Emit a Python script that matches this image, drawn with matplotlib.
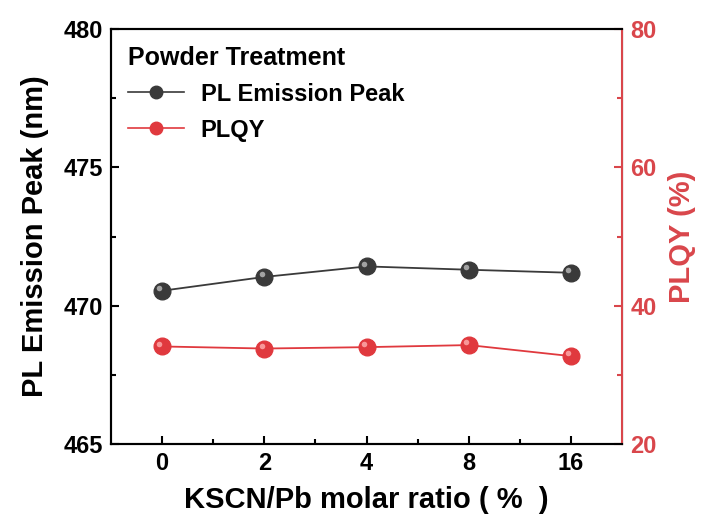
import matplotlib
matplotlib.use("Agg")
import matplotlib.pyplot as plt
import matplotlib.transforms as mtransforms
from matplotlib.lines import Line2D

plt.rcParams["font.family"] = ["Liberation Sans", "DejaVu Sans"]
plt.rcParams["font.weight"] = "bold"

# KSCN/Pb molar ratio (%) and measured values
ratios = ["0", "2", "4", "8", "16"]
pl_peak = [470.54, 471.04, 471.42, 471.30, 471.19]   # nm
plqy = [34.1, 33.8, 34.0, 34.3, 32.7]                # %

RED = "#e0393e"
AX_RED = "#d9464b"
DARK = "#3a3a3a"

fig = plt.figure(figsize=(7.07, 5.31), dpi=100)
ax = fig.add_axes([0.157, 0.164, 0.723, 0.781])
ax2 = ax.twinx()

xs = list(range(len(ratios)))


def ball(axis, x, y, face, light, z):
    """Draw a marker with a small highlight so it looks like a shaded sphere."""
    axis.plot(x, y, "-", color=face, lw=1.3, zorder=z)
    axis.plot(x, y, "o", ms=12, mfc=face, mec=face, zorder=z + 1, ls="none")
    shift = mtransforms.ScaledTranslation(-2 / 72, 2 / 72, fig.dpi_scale_trans)
    axis.plot(x, y, "o", ms=4, mfc=light, mec="none", alpha=0.8, ls="none",
              zorder=z + 2, transform=axis.transData + shift)


ball(ax, xs, pl_peak, DARK, "#bdbdbd", 3)
ball(ax2, xs, plqy, RED, "#ffb0b0", 3)

ax.set_xlim(-0.5, len(ratios) - 0.5)
ax.set_ylim(465, 480)
ax.set_yticks([465, 470, 475, 480])
ax.set_yticks([467.5, 472.5, 477.5], minor=True)
ax.set_xticks(xs)
ax.set_xticklabels(ratios)
ax.set_xticks([0.5, 1.5, 2.5, 3.5], minor=True)
ax2.set_ylim(20, 80)
ax2.set_yticks([20, 40, 60, 80])
ax2.set_yticks([30, 50, 70], minor=True)

ax.tick_params(axis="both", which="major", direction="in", length=6, width=1.5,
               labelsize=17, pad=6)
ax.tick_params(axis="both", which="minor", direction="in", length=3.5, width=1.5)
ax.tick_params(axis="y", right=False)
ax2.tick_params(axis="y", which="major", direction="in", length=6, width=1.5,
                labelsize=17, colors=AX_RED, pad=6)
ax2.tick_params(axis="y", which="minor", direction="in", length=3.5, width=1.5,
                colors=AX_RED)

for s in ["left", "bottom", "top"]:
    ax.spines[s].set_linewidth(1.5)
for s in ["left", "bottom", "top", "right"]:
    ax2.spines[s].set_linewidth(1.5)
ax2.spines["right"].set_color(AX_RED)

ax.set_xlabel("KSCN/Pb molar ratio ( %  )", fontsize=21, fontweight="bold",
              labelpad=8)
ax.set_ylabel("PL Emission Peak (nm)", fontsize=21, fontweight="bold",
              labelpad=10)
ax2.set_ylabel("PLQY (%)", fontsize=21, fontweight="bold", color=AX_RED,
               labelpad=8)

handles = [
    Line2D([], [], color=DARK, lw=1.2, marker="o", ms=9, mfc=DARK, mec=DARK),
    Line2D([], [], color=RED, lw=1.2, marker="o", ms=9, mfc=RED, mec=RED),
]
leg = ax.legend(handles, ["PL Emission Peak", "PLQY"], loc="upper left",
                title="Powder Treatment", frameon=False, fontsize=17,
                title_fontsize=18, handlelength=2.4, handletextpad=0.7,
                borderaxespad=0.3, labelspacing=0.55)
leg.get_title().set_fontweight("bold")
leg._legend_box.align = "left"

fig.savefig("out.png", dpi=100)
